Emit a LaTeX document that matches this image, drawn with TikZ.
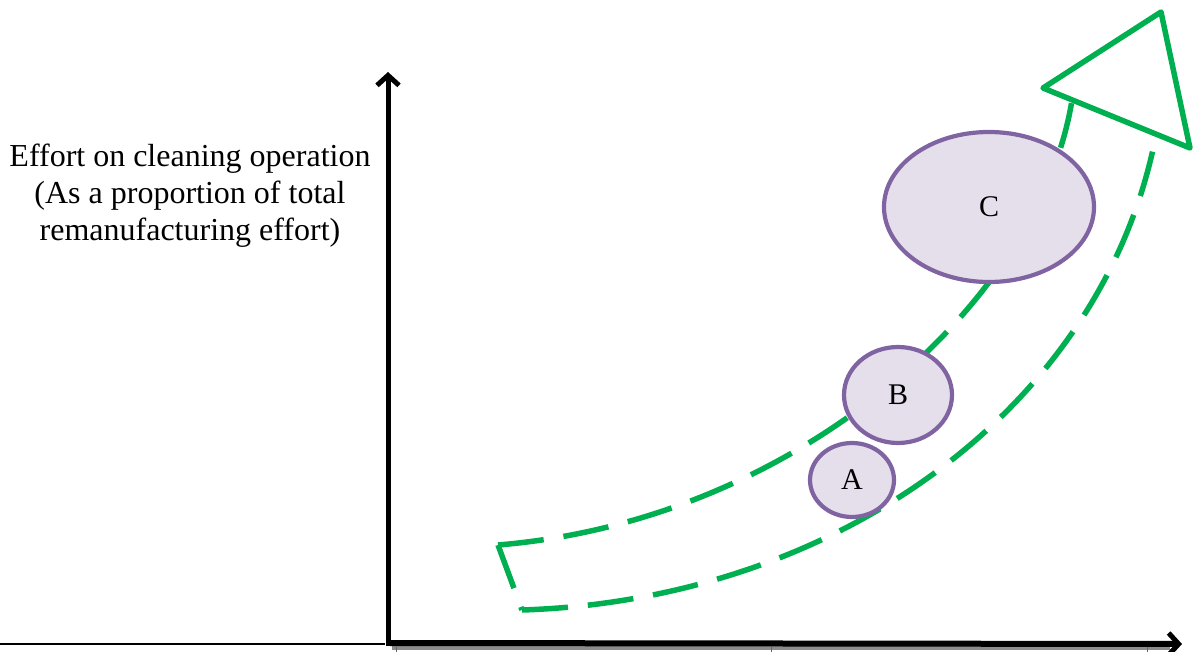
\documentclass[tikz,border=0pt]{standalone}
\usepackage{fontspec}
\setmainfont{Liberation Serif}
\usetikzlibrary{arrows.meta,shapes.geometric}
\definecolor{grn}{HTML}{00B050}
\definecolor{purp}{HTML}{8064A2}
\definecolor{lav}{HTML}{E5DFEC}
\tikzset{
  band/.style={draw=grn, line width=5.5pt, dash pattern=on 46pt off 20pt},
  headline/.style={draw=grn, line width=5.5pt, line join=round},
  bubble/.style={draw=purp, fill=lav, line width=4.2pt, ellipse, inner sep=0pt},
  axis/.style={draw=black, line width=5pt, -{Straight Barb[length=10pt,width=22pt,line width=5pt]}},
  lbl/.style={font=\fontsize{30}{37}\selectfont},
  ylbl/.style={font=\fontsize{32}{37}\selectfont},
}
\begin{document}
\begin{tikzpicture}[x=1pt,y=-1pt]
\useasboundingbox (0,0) rectangle (1194,652);
% coordinates
\coordinate (ul) at (498,545);
\coordinate (ll) at (522,610);
\coordinate (ur) at (1072,100);
\coordinate (lr) at (1155,140);
\coordinate (t1) at (1043,88);
\coordinate (t2) at (1161,12);
\coordinate (t3) at (1190,148);
% band
\draw[band] (ul) .. controls (800,520) and (1040,300) .. (ur);
\draw[band] (ul) -- (ll);
\draw[band] (ll) .. controls (835,600) and (1100,410) .. (lr);
\draw[headline] (t1) -- (t2) -- (t3) -- cycle;
% axes
\coordinate (o) at (388,646);
\coordinate (ytop) at (388,72);
\coordinate (xend) at (1182,644);
\coordinate (xl) at (0,644);
\draw[black!45, line width=4pt] (392,648) -- (1170,648);
\draw[black, line width=2.5pt] (xl) -- (385,644);
\draw[axis, line width=6pt] (390,643) -- (xend);
\draw[axis] (o) -- (ytop);
\foreach \x in {396,771,1147} \draw[black!60, line width=0.8pt] (\x,647) -- (\x,652);
% bubbles
\node[bubble, minimum width=84pt, minimum height=74pt] (A) at (852,480) {};
\node[bubble, minimum width=108pt, minimum height=96pt] (B) at (898,395) {};
\node[bubble, minimum width=210pt, minimum height=150pt] (C) at (989,207) {};
\node[lbl] at (A) {A};
\node[lbl] at (B) {B};
\node[lbl] at (C) {C};
% y label
\node[ylbl, align=center] (ylab) at (190,196) {Effort on cleaning operation\\(As a proportion of total\\remanufacturing effort)};
\end{tikzpicture}
\end{document}
